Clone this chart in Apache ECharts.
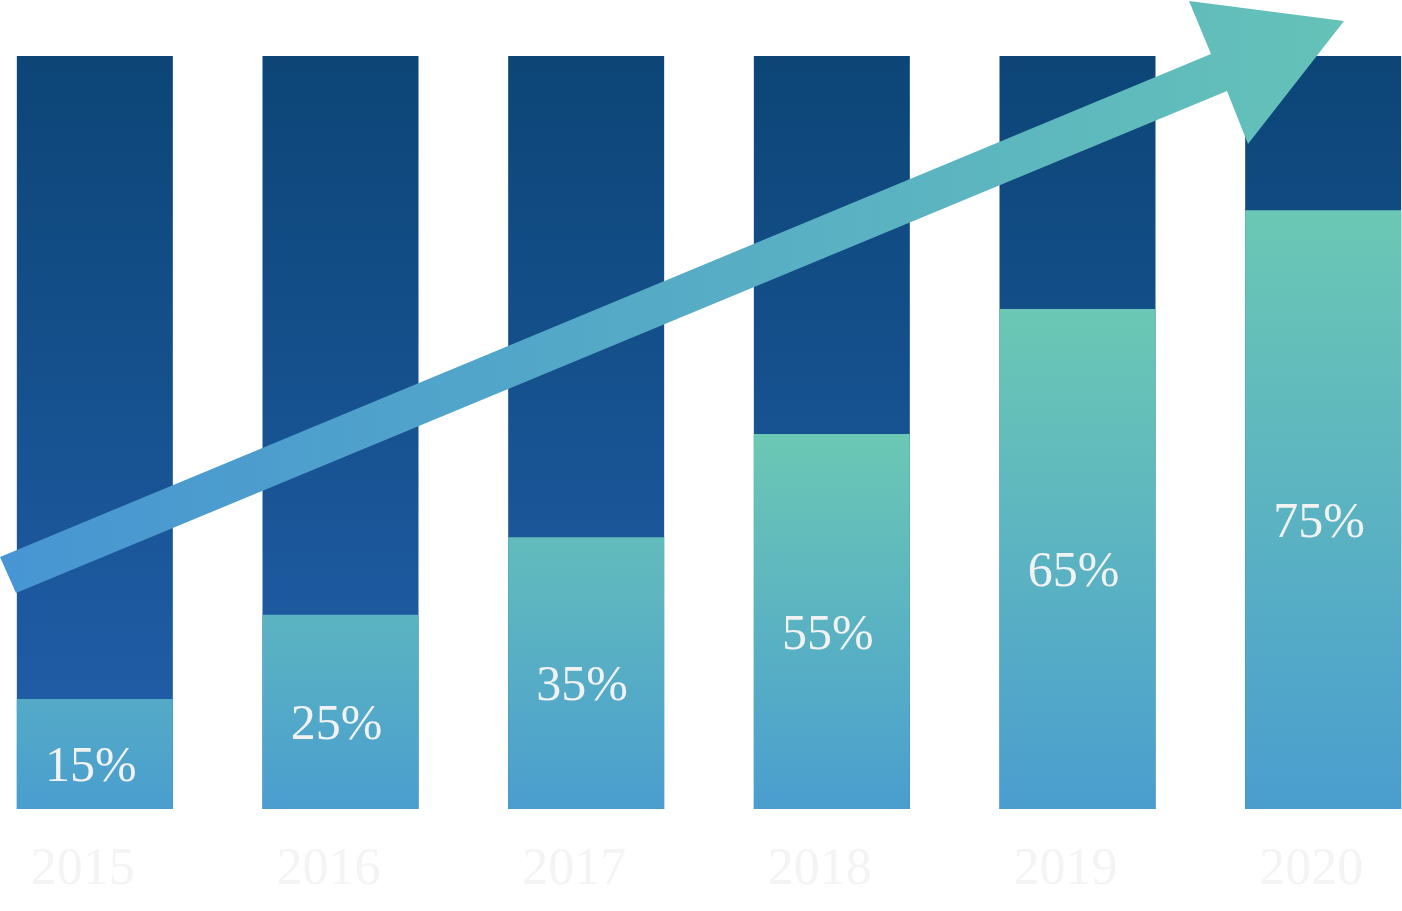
<!DOCTYPE html>
<html>
<head>
    <meta charset="utf-8">
    <title>增长图表</title>
    <script src="https://cdn.jsdelivr.net/npm/echarts@6/dist/echarts.min.js"></script>
    <style type="text/css">
        html,body{ margin:0; padding:0; background:#ffffff; overflow:hidden; }
        /* 图表比窗口宽，左右都有裁切 */
        #main{ width:1474px; height:911px; margin-left:-28px; }
    </style>
</head>
<body>
    <div id="main"></div>
    <script type="text/javascript">
        // 数据
        var years = ['2015', '2016', '2017', '2018', '2019', '2020'];
        var pctLabels = ['15%', '25%', '35%', '55%', '65%', '75%'];
        // 浅色柱高度（从图上量出，占整柱的百分比）
        var shares = [14.6, 25.8, 36.1, 49.8, 66.4, 79.5];
        var totals = [100, 100, 100, 100, 100, 100];

        // 颜色混合
        function mix(c1, c2, t){
            var a = parseInt(c1.slice(1), 16), b = parseInt(c2.slice(1), 16);
            var r = Math.round(((a >> 16) & 255) * (1 - t) + ((b >> 16) & 255) * t);
            var g = Math.round(((a >> 8) & 255) * (1 - t) + ((b >> 8) & 255) * t);
            var bl = Math.round((a & 255) * (1 - t) + (b & 255) * t);
            return 'rgb(' + r + ',' + g + ',' + bl + ')';
        }

        var lowColor = '#4a9ecf', highColor = '#6bc8b4';
        var shareData = shares.map(function(v){
            var t = Math.min(v / 50, 1);
            return {
                value: v,
                itemStyle: {
                    color: {
                        type: 'linear', x: 0, y: 0, x2: 0, y2: 1,
                        colorStops: [
                            {offset: 0, color: mix(lowColor, highColor, t)},
                            {offset: 1, color: lowColor}
                        ]
                    }
                }
            };
        });

        var myChart = echarts.init(document.getElementById('main'));
        var option = {
            animation: false,
            grid: {
                left: 0,
                right: 0,
                top: 56,
                bottom: 102
            },
            xAxis: {
                type: 'category',
                data: years,
                axisLine: {show: false},
                axisTick: {show: false},
                axisLabel: {
                    interval: 0,
                    color: '#f4f4f4',
                    fontFamily: 'Liberation Serif',
                    fontSize: 52,
                    margin: 61,
                    verticalAlign: 'middle',
                    padding: [0, 24, 0, 0]
                }
            },
            yAxis: {
                type: 'value',
                min: 0,
                max: 100,
                show: false
            },
            series: [
                {
                    name: 'total',
                    type: 'bar',
                    data: totals,
                    barWidth: 156,
                    barGap: '-100%',
                    silent: true,
                    itemStyle: {
                        color: {
                            type: 'linear', x: 0, y: 0, x2: 0, y2: 1,
                            colorStops: [
                                {offset: 0, color: '#0c4576'},
                                {offset: 1, color: '#2260ad'}
                            ]
                        }
                    }
                },
                {
                    name: 'share',
                    type: 'bar',
                    data: shareData,
                    barWidth: 156,
                    label: {
                        show: true,
                        position: 'inside',
                        offset: [-4, 14],
                        color: '#f2f2f2',
                        fontFamily: 'Liberation Serif',
                        fontSize: 50,
                        formatter: function(p){
                            return pctLabels[p.dataIndex];
                        }
                    }
                }
            ],
            graphic: [
                {
                    // 装饰箭头（容器左移了28px）
                    type: 'polygon',
                    z: 100,
                    silent: true,
                    x: 28,
                    shape: {
                        points: [[0, 557], [1211, 54], [1189, 1], [1344, 21], [1248, 144], [1227, 91], [16, 593]]
                    },
                    style: {
                        fill: {
                            type: 'linear', x: 0, y: 0, x2: 1344, y2: 0, global: true,
                            colorStops: [
                                {offset: 0, color: '#4795d3'},
                                {offset: 1, color: '#64c2b8'}
                            ]
                        }
                    }
                }
            ]
        };
        myChart.setOption(option);
    </script>
</body>
</html>
